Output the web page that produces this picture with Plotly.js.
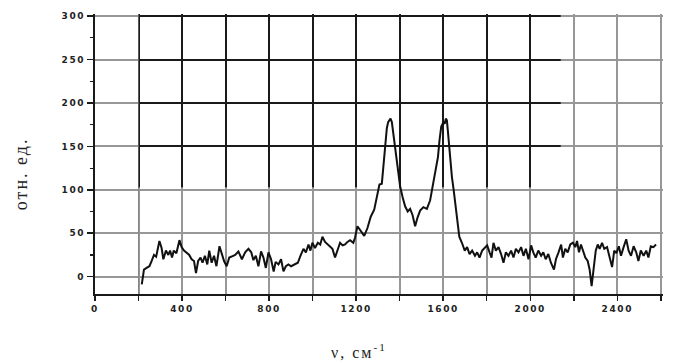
<!DOCTYPE html>
<html>
<head>
<meta charset="utf-8">
<script src="https://cdn.plot.ly/plotly-3.0.1.min.js"></script>
<style>
html,body{margin:0;padding:0;background:#fff;}
.xtick text, .ytick text { letter-spacing: 1.6px; }
.annotation-text { letter-spacing: 2px; }
</style>
</head>
<body>
<div id="chart" style="width:678px;height:363px;"></div>
<script>
// Raman-like spectrum: wavenumber (cm^-1) and intensity (rel. units)
const wavenumber = [215,225,237,250,260,271,281,296,306,314,326,337,345,354,362,374,388,398,409,421,433,444,455,464,474,485,494,505,516,525,536,547,558,572,582,593,605,617,635,644,659,675,690,705,718,728,739,751,763,774,785,797,809,821,830,843,855,866,877,889,901,917,932,944,958,969,981,990,999,1011,1024,1035,1045,1057,1070,1080,1091,1103,1115,1126,1138,1149,1160,1172,1187,1195,1206,1221,1237,1252,1267,1283,1295,1307,1318,1326,1333,1341,1347,1353,1358,1364,1372,1379,1390,1395,1402,1413,1425,1437,1448,1459,1471,1482,1494,1509,1525,1540,1551,1563,1576,1583,1591,1601,1607,1612,1617,1621,1629,1640,1648,1658,1665,1674,1686,1699,1710,1721,1733,1746,1756,1767,1779,1792,1802,1813,1822,1831,1842,1854,1866,1877,1888,1900,1912,1923,1934,1946,1958,1969,1980,1992,2004,2014,2025,2037,2050,2060,2071,2083,2095,2109,2118,2130,2142,2150,2161,2172,2184,2196,2207,2215,2224,2233,2243,2253,2264,2273,2282,2291,2301,2310,2319,2330,2340,2353,2365,2376,2386,2396,2407,2417,2429,2441,2452,2463,2475,2487,2497,2508,2521,2533,2543,2554,2566,2578];
const intensity = [-9,8,10,12,18,25,23,41,33,20,30,25,30,22,30,27,42,34,30,28,25,20,18,4,18,22,16,24,14,30,16,24,12,35,26,18,12,22,24,25,29,20,28,32,28,19,24,12,29,22,10,28,20,6,17,14,20,6,12,14,12,14,16,24,32,28,37,30,39,33,39,37,46,40,37,35,32,22,30,39,36,37,40,42,39,45,58,52,47,56,69,77,92,106,107,131,146,171,178,180,182,178,161,146,129,115,104,92,81,75,78,71,58,68,76,80,78,88,104,121,138,157,173,178,176,182,180,169,142,115,100,81,62,46,39,30,34,26,30,24,28,22,30,34,36,28,22,39,30,34,26,16,28,24,30,22,32,28,34,24,32,20,36,28,22,30,24,28,20,26,16,8,20,28,37,22,32,28,37,39,34,41,28,37,30,22,18,8,-11,12,30,37,32,39,32,34,20,11,30,27,35,24,34,43,30,24,35,28,18,30,24,30,22,35,34,37];

const yTitle = 'отн. ед.';
const xTitle = 'ν, см<sup>-1</sup>';

const axisColor = '#1a1a1a';
const gridColor = '#1a1a1a';
const tickFont = {family: 'DejaVu Sans', size: 9, color: '#222', weight: 'bold'};

const trace = {
  x: wavenumber,
  y: intensity,
  type: 'scatter',
  mode: 'lines',
  line: {color: '#111', width: 2},
  hoverinfo: 'skip'
};

const layout = {
  width: 678,
  height: 363,
  margin: {l: 95, r: 15, t: 14, b: 69},
  paper_bgcolor: '#fff',
  plot_bgcolor: '#fff',
  showlegend: false,
  xaxis: {
    range: [0, 2610],
    tickmode: 'linear',
    tick0: 0,
    dtick: 400,
    ticks: 'outside',
    ticklen: 5,
    tickwidth: 1.5,
    tickcolor: axisColor,
    showline: true,
    linecolor: axisColor,
    linewidth: 2,
    showgrid: true,
    gridcolor: gridColor,
    gridwidth: 2,
    zeroline: false,
    tickfont: tickFont,
    minor: {tickmode: 'linear', tick0: 0, dtick: 200, ticks: 'outside', ticklen: 5, tickwidth: 1.5, tickcolor: axisColor, showgrid: true, gridcolor: gridColor, gridwidth: 2}
  },
  yaxis: {
    range: [-20, 302.5],
    tickmode: 'linear',
    tick0: 0,
    dtick: 50,
    ticks: 'outside',
    ticklen: 6,
    tickwidth: 1.5,
    tickcolor: axisColor,
    showline: true,
    linecolor: axisColor,
    linewidth: 2,
    showgrid: true,
    gridcolor: gridColor,
    gridwidth: 2,
    zeroline: false,
    tickfont: tickFont,
    minor: {tickmode: 'linear', tick0: 0, dtick: 25, ticks: 'outside', ticklen: 3, tickwidth: 1.2, tickcolor: axisColor, showgrid: false}
  },
  shapes: [
    {type: 'rect', layer: 'between', xref: 'x', yref: 'y', x0: 0, x1: 200, y0: -20, y1: 302.5, fillcolor: 'rgba(255,255,255,0.55)', line: {width: 0}},
    {type: 'rect', layer: 'between', xref: 'x', yref: 'y', x0: 200, x1: 2610, y0: -20, y1: 103, fillcolor: 'rgba(255,255,255,0.55)', line: {width: 0}},
    {type: 'rect', layer: 'between', xref: 'x', yref: 'y', x0: 2140, x1: 2610, y0: 103, y1: 302.5, fillcolor: 'rgba(255,255,255,0.55)', line: {width: 0}}
  ],
  annotations: [
    {text: yTitle, xref: 'paper', yref: 'paper', x: -0.131, y: 0.43, textangle: -90,
     showarrow: false, xanchor: 'center', yanchor: 'middle',
     font: {family: 'Liberation Serif', size: 18, color: '#222'}},
    {text: xTitle, xref: 'paper', yref: 'paper', x: 0.465, y: -0.205,
     showarrow: false, xanchor: 'center', yanchor: 'middle',
     font: {family: 'Liberation Serif', size: 16, color: '#222'}}
  ]
};

Plotly.newPlot('chart', [trace], layout, {displayModeBar: false, staticPlot: true});
</script>
</body>
</html>
